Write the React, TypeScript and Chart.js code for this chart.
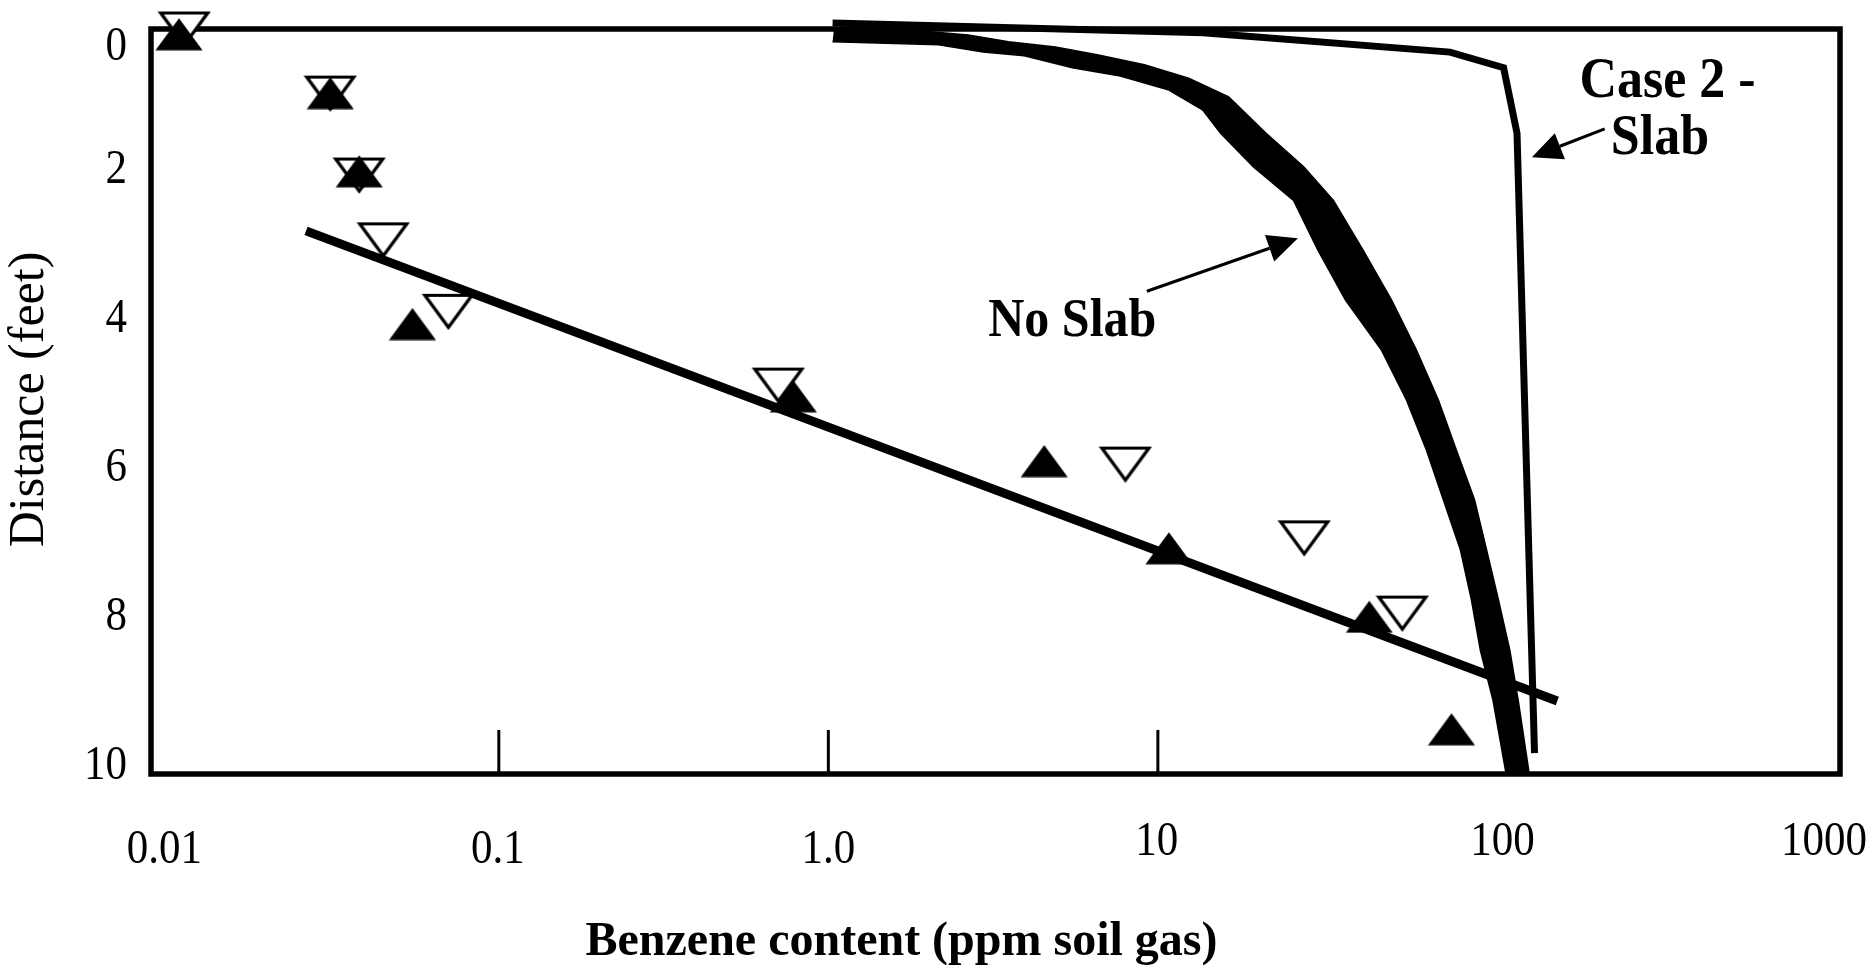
import React, { useEffect, useRef } from 'react';
import { Chart, registerables } from 'chart.js';

Chart.register(...registerables);

// ---- axis ticks ----
const xTickValues = [0.01, 0.1, 1, 10, 100, 1000];
const xTickLabels = ['0.01', '0.1', '1.0', '10', '100', '1000'];
const xInnerTicks = [0.1, 1, 10];
const yTickValues = [0, 2, 4, 6, 8, 10];
const yTickLabels = ['0', '2', '4', '6', '8', '10'];

// ---- measured data (filled up-triangles) ----
const filledPpm = [0.0107, 0.0308, 0.0377, 0.0547, 0.783, 4.52, 10.8, 43.8, 77.8];
const filledDepth = [0.07, 0.86, 1.91, 3.96, 4.93, 5.8, 6.97, 7.89, 9.4];

// ---- measured data (open down-triangles) ----
const openPpm = [0.0111, 0.0308, 0.0377, 0.0446, 0.0703, 0.705, 7.97, 27.8, 55.2];
const openDepth = [0.0, 0.86, 1.96, 2.83, 3.79, 4.78, 5.84, 6.83, 7.84];

// ---- regression line ----
const regPpm = [0.026, 163];
const regDepth = [2.71, 9.02];

// ---- Case 2 - Slab model ----
const slabPpm = [1.03, 13.7, 77, 112, 123, 139];
const slabDepth = [-0.08, 0.05, 0.31, 0.52, 1.4, 9.72];

// ---- No Slab model band (outer / inner edge) ----
const noSlabOuterPpm = [1.04, 1.63, 2.66, 3.52, 4.89, 6.6, 9.1, 12.4, 16.4, 21.3, 27.7, 34.1, 42.0, 51.2, 60.9, 71.0, 80.5, 91.4, 99.4, 108, 117, 124, 134];
const noSlabOuterDepth = [0.0, 0.0, 0.08, 0.17, 0.24, 0.35, 0.48, 0.66, 0.91, 1.4, 1.85, 2.3, 2.97, 3.64, 4.31, 4.98, 5.65, 6.32, 6.99, 7.66, 8.34, 9.01, 10.0];
const noSlabInnerPpm = [1.03, 2.16, 2.95, 3.93, 5.5, 7.69, 10.8, 13.7, 15.5, 19.5, 25.8, 30.6, 37.1, 47.7, 56.8, 65.3, 73.5, 82.8, 89.4, 95.2, 104, 114];
const noSlabInnerDepth = [0.17, 0.21, 0.31, 0.36, 0.52, 0.63, 0.82, 1.09, 1.4, 1.85, 2.3, 2.97, 3.64, 4.31, 4.98, 5.65, 6.32, 6.99, 7.66, 8.34, 9.01, 10.0];

const SERIF = '"Liberation Serif", "Times New Roman", serif';

function makeTriangle(up: boolean, filled: boolean): HTMLCanvasElement {
  const pad = filled ? 0.5 : 3.5;
  const tw = 47;
  const th = 32;
  const w = Math.ceil(tw + pad * 2);
  const h = Math.ceil(th + pad * 2);
  const c = document.createElement('canvas');
  c.width = w;
  c.height = h;
  const g = c.getContext('2d')!;
  g.beginPath();
  if (up) {
    g.moveTo(w / 2, pad);
    g.lineTo(w - pad, h - pad);
    g.lineTo(pad, h - pad);
  } else {
    g.moveTo(pad, pad);
    g.lineTo(w - pad, pad);
    g.lineTo(w / 2, h - pad);
  }
  g.closePath();
  if (filled) {
    g.fillStyle = '#000';
    g.fill();
  } else {
    g.fillStyle = '#fff';
    g.fill();
    g.lineWidth = 3.2;
    g.lineJoin = 'miter';
    g.strokeStyle = '#000';
    g.stroke();
  }
  return c;
}

function drawArrow(ctx: CanvasRenderingContext2D, x1: number, y1: number, x2: number, y2: number) {
  const ang = Math.atan2(y2 - y1, x2 - x1);
  const headLen = 30;
  const headHalf = 14;
  const bx = x2 - Math.cos(ang) * headLen;
  const by = y2 - Math.sin(ang) * headLen;
  ctx.beginPath();
  ctx.moveTo(x1, y1);
  ctx.lineTo(bx, by);
  ctx.lineWidth = 3;
  ctx.stroke();
  ctx.beginPath();
  ctx.moveTo(x2, y2);
  ctx.lineTo(bx + Math.sin(ang) * headHalf, by - Math.cos(ang) * headHalf);
  ctx.lineTo(bx - Math.sin(ang) * headHalf, by + Math.cos(ang) * headHalf);
  ctx.closePath();
  ctx.fill();
}

function tallText(ctx: CanvasRenderingContext2D, text: string, x: number, y: number, sy: number) {
  ctx.save();
  ctx.translate(x, y);
  ctx.scale(1, sy);
  ctx.fillText(text, 0, 0);
  ctx.restore();
}

const decorPlugin = {
  id: 'decor',
  beforeDatasetsDraw(chart: any) {
    const { ctx, chartArea: a, scales } = chart;
    const xs = scales.x;
    const ys = scales.y;
    ctx.save();
    ctx.strokeStyle = '#000';
    ctx.fillStyle = '#000';
    ctx.lineWidth = 5.5;
    ctx.strokeRect(a.left, a.top, a.right - a.left, a.bottom - a.top);
    ctx.lineWidth = 3;
    xInnerTicks.forEach((v) => {
      const px = xs.getPixelForValue(v);
      ctx.beginPath();
      ctx.moveTo(px, a.bottom);
      ctx.lineTo(px, a.bottom - 44);
      ctx.stroke();
    });

    // x tick labels
    ctx.font = `43px ${SERIF}`;
    ctx.textAlign = 'center';
    ctx.textBaseline = 'middle';
    const xdx = [-5, -1, 0, -1, 15, 7];
    const xdy = [76, 76, 76, 68, 68, 68];
    xTickValues.forEach((v, i) => {
      const px = xs.getPixelForValue(v);
      tallText(ctx, xTickLabels[i], px + xdx[i], a.bottom + xdy[i], 1.14);
    });

    // y tick labels
    ctx.textAlign = 'right';
    yTickValues.forEach((v, i) => {
      const py = ys.getPixelForValue(v);
      tallText(ctx, yTickLabels[i], a.left - 24, Math.max(py - 8, a.top + 18), 1.14);
    });

    // axis titles
    ctx.font = `bold 48px ${SERIF}`;
    ctx.textAlign = 'center';
    ctx.textBaseline = 'alphabetic';
    ctx.fillText('Benzene content (ppm soil gas)', (a.left + a.right) / 2 - 94, 955);

    ctx.save();
    ctx.font = `50px ${SERIF}`;
    ctx.translate(30, (a.top + a.bottom) / 2 - 2);
    ctx.rotate(-Math.PI / 2);
    ctx.textBaseline = 'middle';
    ctx.fillText('Distance (feet)', 0, 0);
    ctx.restore();

    ctx.restore();
  },
  afterDatasetsDraw(chart: any) {
    const { ctx, scales } = chart;
    const xs = scales.x;
    const ys = scales.y;
    const X = (v: number) => xs.getPixelForValue(v);
    const Y = (v: number) => ys.getPixelForValue(v);
    ctx.save();
    ctx.fillStyle = '#000';
    ctx.strokeStyle = '#000';
    ctx.font = `bold 50px ${SERIF}`;
    ctx.textAlign = 'center';
    ctx.textBaseline = 'alphabetic';
    tallText(ctx, 'No Slab', X(5.5), Y(4.12), 1.1);
    ctx.font = `bold 52px ${SERIF}`;
    tallText(ctx, 'Case 2 -', X(352), Y(0.91), 1.1);
    tallText(ctx, 'Slab', X(334), Y(1.68), 1.1);
    drawArrow(ctx, X(9.26), Y(3.52), X(26.6), Y(2.81));
    drawArrow(ctx, X(227), Y(1.34), X(136.5), Y(1.72));
    ctx.restore();
  },
};

export default function App() {
  const ref = useRef<HTMLCanvasElement>(null);

  useEffect(() => {
    const canvas = ref.current!;
    const filledTri = makeTriangle(true, true);
    const openTri = makeTriangle(false, false);
    const pts = (xs: number[], ys: number[]) => xs.map((x, i) => ({ x, y: ys[i] }));
    const bandData = [
      ...pts(noSlabOuterPpm, noSlabOuterDepth),
      ...pts(noSlabInnerPpm, noSlabInnerDepth).reverse(),
    ];

    const chart = new Chart(canvas, {
      type: 'line',
      data: {
        datasets: [
          {
            label: 'Measured A',
            data: pts(filledPpm, filledDepth),
            showLine: false,
            pointStyle: filledTri as any,
            pointRadius: 20,
            pointHoverRadius: 20,
            pointBorderWidth: 0,
            clip: false as any,
          },
          {
            label: 'Measured B',
            data: pts(openPpm, openDepth),
            showLine: false,
            pointStyle: openTri as any,
            pointRadius: 20,
            pointHoverRadius: 20,
            pointBorderWidth: 0,
            clip: false as any,
          },
          {
            label: 'Regression',
            data: pts(regPpm, regDepth),
            borderColor: '#000',
            borderWidth: 9,
            pointRadius: 0,
            tension: 0,
            fill: false,
          },
          {
            label: 'Case 2 - Slab',
            data: pts(slabPpm, slabDepth),
            borderColor: '#000',
            borderWidth: 7,
            pointRadius: 0,
            tension: 0,
            fill: false,
            clip: false as any,
          },
          {
            label: 'No Slab',
            data: bandData,
            borderColor: '#000',
            borderWidth: 1.5,
            backgroundColor: '#000',
            fill: 'shape' as any,
            pointRadius: 0,
            tension: 0,
          },
        ],
      },
      options: {
        animation: false,
        responsive: false,
        devicePixelRatio: 1,
        events: [],
        layout: { padding: { left: 151, top: 29, right: 34, bottom: 191 } },
        plugins: {
          legend: { display: false },
          tooltip: { enabled: false },
        },
        scales: {
          x: { type: 'logarithmic', min: 0.0088, max: 1175, display: false },
          y: { type: 'linear', min: 0, max: 10, reverse: true, display: false },
        },
      },
      plugins: [decorPlugin],
    });
    return () => chart.destroy();
  }, []);

  return (
    <div style={{ position: 'absolute', left: 0, top: 0, width: 1874, height: 965, background: '#fff' }}>
      <canvas ref={ref} width={1874} height={965} style={{ width: 1874, height: 965, display: 'block' }} />
    </div>
  );
}
